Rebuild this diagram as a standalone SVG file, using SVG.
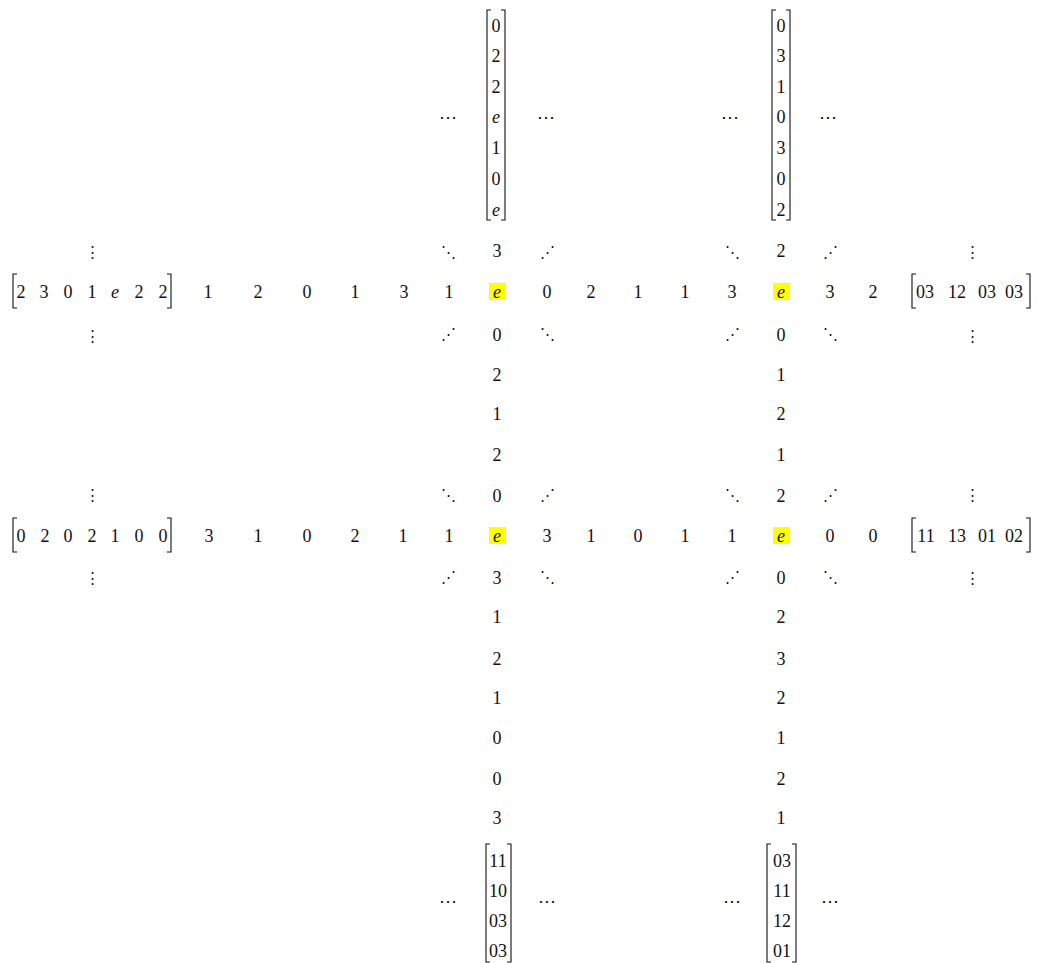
<svg xmlns="http://www.w3.org/2000/svg" width="1038" height="963" viewBox="0 0 1038 963">
<style>
text{font-family:"Liberation Serif","DejaVu Serif",serif;font-size:18px;fill:#111;text-anchor:middle}
.i{font-style:italic}
.d{font-family:"DejaVu Serif",serif;font-size:15px}
.c{font-family:"DejaVu Serif",serif;font-size:18px}
.hl{fill:#ffff00}
.br{fill:none;stroke:#111;stroke-width:1.1}
</style>
<rect width="1038" height="963" fill="#fff"/>
<g id="top-left-matrix">
<path class="br" d="M491,10H487V220H491M501,10H505V220H501"/>
<text x="496" y="32">0</text><text x="496" y="62">2</text><text x="496" y="93">2</text><text class="i" x="496" y="123">e</text><text x="496" y="154">1</text><text x="496" y="185">0</text><text class="i" x="496" y="216">e</text>
<text class="c" x="448" y="123">⋯</text><text class="c" x="546" y="123">⋯</text>
</g>
<g id="top-right-matrix">
<path class="br" d="M776,10H772V220H776M786,10H790V220H786"/>
<text x="781" y="32">0</text><text x="781" y="62">3</text><text x="781" y="93">1</text><text x="781" y="123">0</text><text x="781" y="154">3</text><text x="781" y="185">0</text><text x="781" y="216">2</text>
<text class="c" x="730" y="123">⋯</text><text class="c" x="828" y="123">⋯</text>
</g>
<g id="row1">
<path class="br" d="M17,274H13V308H17M167,274H171V308H167"/>
<text x="21" y="298">2</text><text x="44" y="298">3</text><text x="68" y="298">0</text><text x="92" y="298">1</text><text class="i" x="115" y="298">e</text><text x="139" y="298">2</text><text x="163" y="298">2</text>
<text x="208" y="298">1</text><text x="258" y="298">2</text><text x="307" y="298">0</text><text x="355" y="298">1</text><text x="404" y="298">3</text><text x="449" y="298">1</text>
<rect class="hl" x="489" y="283" width="17" height="17"/><text class="i" x="497" y="298">e</text>
<text x="547" y="298">0</text><text x="591" y="298">2</text><text x="638" y="298">1</text><text x="685" y="298">1</text><text x="732" y="298">3</text>
<rect class="hl" x="773" y="283" width="17" height="17"/><text class="i" x="781" y="298">e</text>
<text x="830" y="298">3</text><text x="873" y="298">2</text>
<path class="br" d="M916,274H912V308H916M1026,274H1030V308H1026"/>
<text x="925" y="298">03</text><text x="957" y="298">12</text><text x="987" y="298">03</text><text x="1014" y="298">03</text>
</g>
<g id="row1-dots">
<text class="d" x="92" y="257">⋮</text><text class="d" x="972" y="257">⋮</text>
<text class="d" x="448" y="257">⋱</text><text x="497" y="257">3</text><text class="d" x="547" y="257">⋰</text>
<text class="d" x="732" y="257">⋱</text><text x="781" y="257">2</text><text class="d" x="830" y="257">⋰</text>
<text class="d" x="92" y="341">⋮</text><text class="d" x="972" y="341">⋮</text>
<text class="d" x="448" y="339">⋰</text><text x="497" y="341">0</text><text class="d" x="547" y="339">⋱</text>
<text class="d" x="732" y="339">⋰</text><text x="781" y="341">0</text><text class="d" x="830" y="339">⋱</text>
</g>
<g id="middle-columns">
<text x="497" y="381">2</text><text x="497" y="420">1</text><text x="497" y="461">2</text>
<text x="781" y="381">1</text><text x="781" y="420">2</text><text x="781" y="461">1</text>
</g>
<g id="row2-dots">
<text class="d" x="92" y="500">⋮</text><text class="d" x="972" y="500">⋮</text>
<text class="d" x="448" y="500">⋱</text><text x="497" y="502">0</text><text class="d" x="547" y="500">⋰</text>
<text class="d" x="732" y="500">⋱</text><text x="781" y="502">2</text><text class="d" x="830" y="500">⋰</text>
<text class="d" x="92" y="583">⋮</text><text class="d" x="972" y="583">⋮</text>
<text class="d" x="448" y="582">⋰</text><text x="497" y="584">3</text><text class="d" x="547" y="582">⋱</text>
<text class="d" x="732" y="582">⋰</text><text x="781" y="584">0</text><text class="d" x="830" y="582">⋱</text>
</g>
<g id="row2">
<path class="br" d="M17,518H13V552H17M167,518H171V552H167"/>
<text x="21" y="542">0</text><text x="45" y="542">2</text><text x="68" y="542">0</text><text x="92" y="542">2</text><text x="115" y="542">1</text><text x="139" y="542">0</text><text x="163" y="542">0</text>
<text x="209" y="542">3</text><text x="258" y="542">1</text><text x="307" y="542">0</text><text x="355" y="542">2</text><text x="403" y="542">1</text><text x="449" y="542">1</text>
<rect class="hl" x="489" y="527" width="17" height="17"/><text class="i" x="497" y="542">e</text>
<text x="547" y="542">3</text><text x="591" y="542">1</text><text x="638" y="542">0</text><text x="685" y="542">1</text><text x="732" y="542">1</text>
<rect class="hl" x="773" y="527" width="17" height="17"/><text class="i" x="781" y="542">e</text>
<text x="830" y="542">0</text><text x="873" y="542">0</text>
<path class="br" d="M916,518H912V552H916M1026,518H1030V552H1026"/>
<text x="926" y="542">11</text><text x="957" y="542">13</text><text x="987" y="542">01</text><text x="1014" y="542">02</text>
</g>
<g id="lower-columns">
<text x="497" y="623">1</text><text x="497" y="665">2</text><text x="497" y="704">1</text><text x="497" y="744">0</text><text x="497" y="785">0</text><text x="497" y="824">3</text>
<text x="781" y="623">2</text><text x="781" y="665">3</text><text x="781" y="704">2</text><text x="781" y="744">1</text><text x="781" y="785">2</text><text x="781" y="824">1</text>
</g>
<g id="bottom-left-matrix">
<path class="br" d="M490,844H486V962H490M507,844H511V962H507"/>
<text x="498" y="867">11</text><text x="498" y="897">10</text><text x="498" y="927">03</text><text x="498" y="957">03</text>
<text class="c" x="448" y="907">⋯</text><text class="c" x="547" y="907">⋯</text>
</g>
<g id="bottom-right-matrix">
<path class="br" d="M771,844H767V962H771M792,844H796V962H792"/>
<text x="782" y="867">03</text><text x="782" y="897">11</text><text x="782" y="927">12</text><text x="782" y="957">01</text>
<text class="c" x="732" y="907">⋯</text><text class="c" x="830" y="907">⋯</text>
</g>
</svg>
